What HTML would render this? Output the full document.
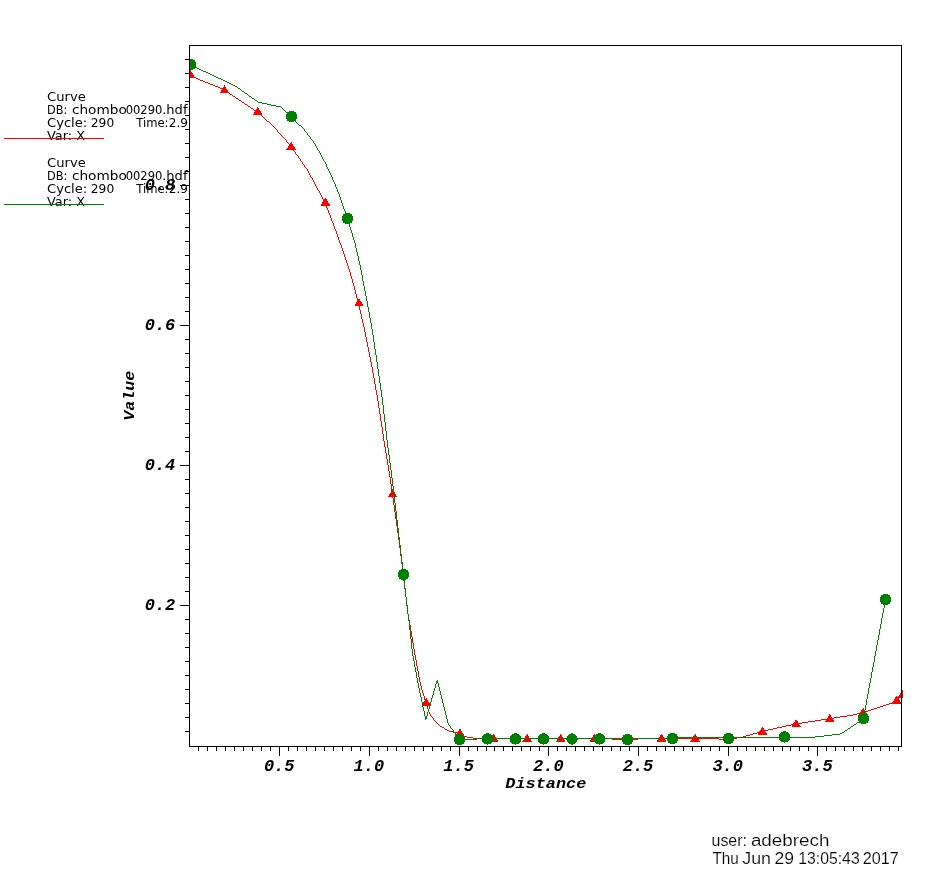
<!DOCTYPE html>
<html lang="en"><head><meta charset="utf-8"><title>Curve plot</title>
<style>html,body{margin:0;padding:0;background:#fff}body{width:950px;height:878px;overflow:hidden}svg{display:block}.leg{font-family:"DejaVu Sans","Liberation Sans",sans-serif;font-size:12px;fill:#000}.ax{font-family:"Liberation Mono","DejaVu Sans Mono",monospace;font-weight:bold;font-style:italic;font-size:17px;fill:#000}.axt{font-family:"Liberation Mono","DejaVu Sans Mono",monospace;font-weight:bold;font-style:italic;font-size:15px;fill:#000}.inf{font-family:"Liberation Sans","DejaVu Sans",sans-serif;font-size:16px;fill:#000;stroke:#fff;stroke-width:0.15px}</style></head><body>
<svg width="950" height="878" viewBox="0 0 950 878">
<rect width="950" height="878" fill="#fff"/>
<defs><clipPath id="vp"><rect x="189" y="45" width="714" height="702"/></clipPath></defs>
<text class="leg" y="100.7"><tspan x="47.0" textLength="38.8" lengthAdjust="spacingAndGlyphs">Curve</tspan></text>
<text class="leg" y="113.7"><tspan x="47.0" textLength="20.3" lengthAdjust="spacingAndGlyphs">DB:</tspan> <tspan x="71.9" textLength="54.9" lengthAdjust="spacingAndGlyphs">chombo</tspan><tspan x="125.7" textLength="36.7" lengthAdjust="spacingAndGlyphs">00290</tspan><tspan x="162.2" textLength="25.3" lengthAdjust="spacingAndGlyphs">.hdf</tspan></text>
<text class="leg" y="126.7"><tspan x="47.0" textLength="40.2" lengthAdjust="spacingAndGlyphs">Cycle:</tspan> <tspan x="90.8" textLength="23.4" lengthAdjust="spacingAndGlyphs">290</tspan> <tspan x="136.2" textLength="32.3" lengthAdjust="spacingAndGlyphs">Time:</tspan><tspan x="168.8" textLength="19.2" lengthAdjust="spacingAndGlyphs">2.9</tspan></text>
<text class="leg" y="139.7"><tspan x="47.0" textLength="25.1" lengthAdjust="spacingAndGlyphs">Var:</tspan> <tspan x="76.3" textLength="8.8" lengthAdjust="spacingAndGlyphs">X</tspan></text>
<rect x="4" y="138" width="100" height="1" fill="#ff0000" shape-rendering="crispEdges"/>
<text class="leg" y="166.7"><tspan x="47.0" textLength="38.8" lengthAdjust="spacingAndGlyphs">Curve</tspan></text>
<text class="leg" y="179.7"><tspan x="47.0" textLength="20.3" lengthAdjust="spacingAndGlyphs">DB:</tspan> <tspan x="71.9" textLength="54.9" lengthAdjust="spacingAndGlyphs">chombo</tspan><tspan x="125.7" textLength="36.7" lengthAdjust="spacingAndGlyphs">00290</tspan><tspan x="162.2" textLength="25.3" lengthAdjust="spacingAndGlyphs">.hdf</tspan></text>
<text class="leg" y="192.7"><tspan x="47.0" textLength="40.2" lengthAdjust="spacingAndGlyphs">Cycle:</tspan> <tspan x="90.8" textLength="23.4" lengthAdjust="spacingAndGlyphs">290</tspan> <tspan x="136.2" textLength="32.3" lengthAdjust="spacingAndGlyphs">Time:</tspan><tspan x="168.8" textLength="19.2" lengthAdjust="spacingAndGlyphs">2.9</tspan></text>
<text class="leg" y="205.7"><tspan x="47.0" textLength="25.1" lengthAdjust="spacingAndGlyphs">Var:</tspan> <tspan x="76.3" textLength="8.8" lengthAdjust="spacingAndGlyphs">X</tspan></text>
<rect x="4" y="204" width="100" height="1" fill="#008000" shape-rendering="crispEdges"/>
<g clip-path="url(#vp)">
<path d="M189 75h2v1h-2zM191 76h2v1h-2zM193 77h3v1h-3zM196 78h2v1h-2zM198 79h2v1h-2zM200 80h3v1h-3zM203 81h2v1h-2zM205 82h3v1h-3zM208 83h2v1h-2zM210 84h3v1h-3zM213 85h2v1h-2zM215 86h3v1h-3zM218 87h2v1h-2zM220 88h2v1h-2zM222 89h3v1h-3zM225 90h1v1h-1zM226 91h2v1h-2zM228 92h1v1h-1zM229 93h1v1h-1zM230 94h2v1h-2zM232 95h1v1h-1zM233 96h2v1h-2zM235 97h1v1h-1zM236 98h2v1h-2zM238 99h1v1h-1zM239 100h2v1h-2zM241 101h1v1h-1zM242 102h2v1h-2zM244 103h1v1h-1zM245 104h2v1h-2zM247 105h1v1h-1zM248 106h2v1h-2zM250 107h1v1h-1zM251 108h2v1h-2zM253 109h1v1h-1zM254 110h2v1h-2zM256 111h1v1h-1zM257 112h2v1h-2zM259 113h1v1h-1zM260 114h1v1h-1zM261 115h1v1h-1zM262 116h1v1h-1zM263 117h1v1h-1zM264 118h1v1h-1zM265 119h1v1h-1zM266 120h1v1h-1zM267 121h2v1h-2zM269 122h1v1h-1zM270 123h1v1h-1zM271 124h1v1h-1zM272 125h1v1h-1zM273 126h1v1h-1zM274 127h1v1h-1zM275 128h1v1h-1zM276 129h1v1h-1zM277 130h1v2h-1zM278 132h1v1h-1zM279 133h1v1h-1zM280 134h1v1h-1zM281 135h1v1h-1zM282 136h1v1h-1zM283 137h1v1h-1zM284 138h1v1h-1zM285 139h1v1h-1zM286 140h1v2h-1zM287 142h1v1h-1zM288 143h1v1h-1zM289 144h1v1h-1zM290 145h1v1h-1zM291 146h1v2h-1zM292 148h1v1h-1zM293 149h1v2h-1zM294 151h1v1h-1zM295 152h1v2h-1zM296 154h1v1h-1zM297 155h1v1h-1zM298 156h1v2h-1zM299 158h1v1h-1zM300 159h1v2h-1zM301 161h1v1h-1zM302 162h1v2h-1zM303 164h1v1h-1zM304 165h1v2h-1zM305 167h1v1h-1zM306 168h1v1h-1zM307 169h1v2h-1zM308 171h1v2h-1zM309 173h1v2h-1zM310 175h1v2h-1zM311 177h1v1h-1zM312 178h1v2h-1zM313 180h1v2h-1zM314 182h1v2h-1zM315 184h1v2h-1zM316 186h1v2h-1zM317 188h1v2h-1zM318 190h1v1h-1zM319 191h1v2h-1zM320 193h1v2h-1zM321 195h1v2h-1zM322 197h1v2h-1zM323 199h1v2h-1zM324 201h1v1h-1zM325 202h1v3h-1zM326 205h1v3h-1zM327 208h1v2h-1zM328 210h1v3h-1zM329 213h1v2h-1zM330 215h1v3h-1zM331 218h1v3h-1zM332 221h1v2h-1zM333 223h1v3h-1zM334 226h1v3h-1zM335 229h1v2h-1zM336 231h1v3h-1zM337 234h1v3h-1zM338 237h1v3h-1zM339 240h1v3h-1zM340 243h1v2h-1zM341 245h1v3h-1zM342 248h1v3h-1zM343 251h1v3h-1zM344 254h1v3h-1zM345 257h1v3h-1zM346 260h1v3h-1zM347 263h1v3h-1zM348 266h1v3h-1zM349 269h1v3h-1zM350 272h1v4h-1zM351 276h1v3h-1zM352 279h1v4h-1zM353 283h1v3h-1zM354 286h1v4h-1zM355 290h1v4h-1zM356 294h1v4h-1zM357 298h1v3h-1zM358 301h1v5h-1zM359 306h1v4h-1zM360 310h1v4h-1zM361 314h1v5h-1zM362 319h1v4h-1zM363 323h1v4h-1zM364 327h1v5h-1zM365 332h1v5h-1zM366 337h1v5h-1zM367 342h1v5h-1zM368 347h1v5h-1zM369 352h1v5h-1zM370 357h1v5h-1zM371 362h1v5h-1zM372 367h1v6h-1zM373 373h1v5h-1zM374 378h1v6h-1zM375 384h1v6h-1zM376 390h1v5h-1zM377 395h1v6h-1zM378 401h1v7h-1zM379 408h1v6h-1zM380 414h1v7h-1zM381 421h1v6h-1zM382 427h1v7h-1zM383 434h1v7h-1zM384 441h1v6h-1zM385 447h1v6h-1zM386 453h1v6h-1zM387 459h1v6h-1zM388 465h1v6h-1zM389 471h1v6h-1zM390 477h1v7h-1zM391 484h1v7h-1zM392 491h1v7h-1zM393 498h1v7h-1zM394 505h1v7h-1zM395 512h1v7h-1zM396 519h1v7h-1zM397 526h1v7h-1zM398 533h1v7h-1zM399 540h1v8h-1zM400 548h1v8h-1zM401 556h1v8h-1zM402 564h1v8h-1zM403 572h1v9h-1zM404 581h1v8h-1zM405 589h1v8h-1zM406 597h1v9h-1zM407 606h1v8h-1zM408 614h1v6h-1zM409 620h1v5h-1zM410 625h1v6h-1zM411 631h1v6h-1zM412 637h1v6h-1zM413 643h1v6h-1zM414 649h1v6h-1zM415 655h1v5h-1zM416 660h1v6h-1zM417 666h1v5h-1zM418 671h1v6h-1zM419 677h1v5h-1zM420 682h1v4h-1zM421 686h1v4h-1zM422 690h1v3h-1zM423 693h1v3h-1zM424 696h1v4h-1zM425 700h1v3h-1zM426 703h1v3h-1zM427 706h1v3h-1zM428 709h1v3h-1zM429 712h1v2h-1zM430 714h1v2h-1zM431 716h1v1h-1zM432 717h1v1h-1zM433 718h1v2h-1zM434 720h1v1h-1zM435 721h1v1h-1zM436 722h1v1h-1zM437 723h1v1h-1zM438 724h1v1h-1zM439 725h1v1h-1zM440 726h2v1h-2zM442 727h2v1h-2zM444 728h1v1h-1zM445 729h2v1h-2zM447 730h2v1h-2zM449 731h4v1h-4zM453 732h4v1h-4zM457 733h3v1h-3zM460 734h2v1h-2zM462 735h2v1h-2zM464 736h3v1h-3zM467 737h6v1h-6zM473 738h139v1h-139zM612 739h26v1h-26zM638 738h81v1h-81zM719 739h11v1h-11zM730 738h7v1h-7zM737 737h6v1h-6zM743 736h3v1h-3zM746 735h4v1h-4zM750 734h3v1h-3zM753 733h4v1h-4zM757 732h3v1h-3zM760 731h4v1h-4zM764 730h4v1h-4zM768 729h5v1h-5zM773 728h4v1h-4zM777 727h5v1h-5zM782 726h4v1h-4zM786 725h5v1h-5zM791 724h4v1h-4zM795 723h7v1h-7zM802 722h6v1h-6zM808 721h7v1h-7zM815 720h6v1h-6zM821 719h7v1h-7zM828 718h6v1h-6zM834 717h6v1h-6zM840 716h7v1h-7zM847 715h6v1h-6zM853 714h4v1h-4zM857 713h4v1h-4zM861 712h4v1h-4zM865 711h3v1h-3zM868 710h3v1h-3zM871 709h3v1h-3zM874 708h3v1h-3zM877 707h3v1h-3zM880 706h3v1h-3zM883 705h3v1h-3zM886 704h3v1h-3zM889 703h3v1h-3zM892 702h2v1h-2zM894 701h2v1h-2zM896 700h1v1h-1zM897 699h1v1h-1zM898 698h1v1h-1zM899 697h1v1h-1zM900 696h1v1h-1zM901 695h1v1h-1zM902 694h1v1h-1z" fill="#ff0000" shape-rendering="crispEdges"/>
<g fill="#ff0000" shape-rendering="crispEdges">
<path d="M190.4 69.8L195.3 77.9L185.5 77.9Z"/>
<path d="M224.5 85.2L229.4 93.3L219.6 93.3Z"/>
<path d="M257.7 106.7L262.6 114.8L252.8 114.8Z"/>
<path d="M291.2 141.7L296.1 149.8L286.3 149.8Z"/>
<path d="M325.4 197.5L330.3 205.6L320.5 205.6Z"/>
<path d="M359.0 298.2L363.9 306.3L354.1 306.3Z"/>
<path d="M392.6 489.1L397.5 497.2L387.7 497.2Z"/>
<path d="M426.2 697.9L431.1 706.0L421.3 706.0Z"/>
<path d="M459.9 728.3L464.8 736.4L455.0 736.4Z"/>
<path d="M493.5 733.7L498.4 741.8L488.6 741.8Z"/>
<path d="M527.1 733.7L532.0 741.8L522.2 741.8Z"/>
<path d="M560.7 733.7L565.6 741.8L555.8 741.8Z"/>
<path d="M594.3 733.7L599.2 741.8L589.4 741.8Z"/>
<path d="M627.4 733.9L632.3 742.0L622.5 742.0Z"/>
<path d="M661.6 733.7L666.5 741.8L656.7 741.8Z"/>
<path d="M695.2 733.7L700.1 741.8L690.3 741.8Z"/>
<path d="M728.8 734.3L733.7 742.4L723.9 742.4Z"/>
<path d="M762.4 726.5L767.3 734.6L757.5 734.6Z"/>
<path d="M796.1 719.1L801.0 727.2L791.2 727.2Z"/>
<path d="M829.7 713.9L834.6 722.0L824.8 722.0Z"/>
<path d="M863.3 707.5L868.2 715.6L858.4 715.6Z"/>
<path d="M896.6 695.6L901.5 703.7L891.7 703.7Z"/>
<path d="M902.5 689.7L907.4 697.8L897.6 697.8Z"/>
</g>
<path d="M189 64h2v1h-2zM191 65h2v1h-2zM193 66h2v1h-2zM195 67h2v1h-2zM197 68h2v1h-2zM199 69h2v1h-2zM201 70h2v1h-2zM203 71h3v1h-3zM206 72h2v1h-2zM208 73h2v1h-2zM210 74h2v1h-2zM212 75h2v1h-2zM214 76h2v1h-2zM216 77h2v1h-2zM218 78h3v1h-3zM221 79h2v1h-2zM223 80h2v1h-2zM225 81h2v1h-2zM227 82h2v1h-2zM229 83h2v1h-2zM231 84h2v1h-2zM233 85h2v1h-2zM235 86h2v1h-2zM237 87h1v1h-1zM238 88h2v1h-2zM240 89h1v1h-1zM241 90h1v1h-1zM242 91h2v1h-2zM244 92h1v1h-1zM245 93h2v1h-2zM247 94h1v1h-1zM248 95h1v1h-1zM249 96h2v1h-2zM251 97h1v1h-1zM252 98h2v1h-2zM254 99h1v1h-1zM255 100h2v1h-2zM257 101h1v1h-1zM258 102h4v1h-4zM262 103h5v1h-5zM267 104h4v1h-4zM271 105h5v1h-5zM276 106h5v1h-5zM281 107h1v1h-1zM282 108h1v1h-1zM283 109h1v1h-1zM284 110h1v1h-1zM285 111h1v1h-1zM286 112h1v1h-1zM287 113h1v1h-1zM288 114h1v1h-1zM289 115h1v1h-1zM290 116h1v1h-1zM291 117h1v1h-1zM292 118h1v1h-1zM293 119h1v1h-1zM294 120h1v1h-1zM295 121h1v1h-1zM296 122h1v1h-1zM297 123h1v1h-1zM298 124h1v1h-1zM299 125h2v1h-2zM301 126h1v1h-1zM302 127h1v1h-1zM303 128h1v1h-1zM304 129h1v2h-1zM305 131h1v1h-1zM306 132h1v1h-1zM307 133h1v2h-1zM308 135h1v1h-1zM309 136h1v1h-1zM310 137h1v2h-1zM311 139h1v1h-1zM312 140h1v1h-1zM313 141h1v2h-1zM314 143h1v1h-1zM315 144h1v2h-1zM316 146h1v2h-1zM317 148h1v2h-1zM318 150h1v1h-1zM319 151h1v2h-1zM320 153h1v2h-1zM321 155h1v2h-1zM322 157h1v2h-1zM323 159h1v2h-1zM324 161h1v1h-1zM325 162h1v2h-1zM326 164h1v3h-1zM327 167h1v2h-1zM328 169h1v2h-1zM329 171h1v2h-1zM330 173h1v2h-1zM331 175h1v2h-1zM332 177h1v3h-1zM333 180h1v2h-1zM334 182h1v2h-1zM335 184h1v3h-1zM336 187h1v2h-1zM337 189h1v3h-1zM338 192h1v2h-1zM339 194h1v3h-1zM340 197h1v3h-1zM341 200h1v3h-1zM342 203h1v3h-1zM343 206h1v3h-1zM344 209h1v2h-1zM345 211h1v3h-1zM346 214h1v3h-1zM347 217h1v4h-1zM348 221h1v3h-1zM349 224h1v3h-1zM350 227h1v3h-1zM351 230h1v3h-1zM352 233h1v4h-1zM353 237h1v3h-1zM354 240h1v3h-1zM355 243h1v5h-1zM356 248h1v4h-1zM357 252h1v4h-1zM358 256h1v5h-1zM359 261h1v4h-1zM360 265h1v5h-1zM361 270h1v5h-1zM362 275h1v6h-1zM363 281h1v5h-1zM364 286h1v5h-1zM365 291h1v5h-1zM366 296h1v5h-1zM367 301h1v6h-1zM368 307h1v5h-1zM369 312h1v6h-1zM370 318h1v5h-1zM371 323h1v6h-1zM372 329h1v6h-1zM373 335h1v7h-1zM374 342h1v7h-1zM375 349h1v6h-1zM376 355h1v7h-1zM377 362h1v7h-1zM378 369h1v7h-1zM379 376h1v7h-1zM380 383h1v7h-1zM381 390h1v7h-1zM382 397h1v8h-1zM383 405h1v9h-1zM384 414h1v8h-1zM385 422h1v9h-1zM386 431h1v9h-1zM387 440h1v8h-1zM388 448h1v7h-1zM389 455h1v8h-1zM390 463h1v7h-1zM391 470h1v8h-1zM392 478h1v8h-1zM393 486h1v8h-1zM394 494h1v9h-1zM395 503h1v8h-1zM396 511h1v9h-1zM397 520h1v8h-1zM398 528h1v9h-1zM399 537h1v8h-1zM400 545h1v9h-1zM401 554h1v8h-1zM402 562h1v9h-1zM403 571h1v8h-1zM404 579h1v9h-1zM405 588h1v9h-1zM406 597h1v8h-1zM407 605h1v9h-1zM408 614h1v7h-1zM409 621h1v9h-1zM410 630h1v9h-1zM411 639h1v10h-1zM412 649h1v7h-1zM413 656h1v5h-1zM414 661h1v6h-1zM415 667h1v5h-1zM416 672h1v6h-1zM417 678h1v5h-1zM418 683h1v5h-1zM419 688h1v5h-1zM420 693h1v4h-1zM421 697h1v5h-1zM422 702h1v5h-1zM423 707h1v4h-1zM424 711h1v5h-1zM425 716h1v4h-1zM426 716h1v3h-1zM427 712h1v4h-1zM428 709h1v3h-1zM429 705h1v4h-1zM430 702h1v3h-1zM431 698h1v4h-1zM432 695h1v3h-1zM433 691h1v4h-1zM434 688h1v3h-1zM435 684h1v4h-1zM436 681h1v3h-1zM437 680h1v3h-1zM438 683h1v4h-1zM439 687h1v4h-1zM440 691h1v4h-1zM441 695h1v4h-1zM442 699h1v4h-1zM443 703h1v4h-1zM444 707h1v4h-1zM445 711h1v4h-1zM446 715h1v4h-1zM447 719h1v4h-1zM448 723h1v2h-1zM449 725h1v1h-1zM450 726h1v2h-1zM451 728h1v1h-1zM452 729h1v1h-1zM453 730h1v2h-1zM454 732h1v1h-1zM455 733h1v2h-1zM456 735h1v1h-1zM457 736h1v1h-1zM458 737h1v2h-1zM459 739h18v1h-18zM477 738h199v1h-199zM676 737h139v1h-139zM815 736h9v1h-9zM824 735h8v1h-8zM832 734h8v1h-8zM840 733h2v1h-2zM842 732h2v1h-2zM844 731h1v1h-1zM845 730h2v1h-2zM847 729h1v1h-1zM848 728h2v1h-2zM850 727h1v1h-1zM851 726h2v1h-2zM853 725h1v1h-1zM854 724h2v1h-2zM856 723h1v1h-1zM857 722h2v1h-2zM859 721h1v1h-1zM860 720h1v1h-1zM861 719h2v1h-2zM863 715h1v4h-1zM864 710h1v5h-1zM865 705h1v5h-1zM866 699h1v6h-1zM867 694h1v5h-1zM868 688h1v6h-1zM869 683h1v5h-1zM870 678h1v5h-1zM871 672h1v6h-1zM872 667h1v5h-1zM873 662h1v5h-1zM874 656h1v6h-1zM875 651h1v5h-1zM876 645h1v6h-1zM877 640h1v5h-1zM878 635h1v5h-1zM879 629h1v6h-1zM880 624h1v5h-1zM881 618h1v6h-1zM882 613h1v5h-1zM883 608h1v5h-1zM884 602h1v6h-1zM885 599h1v3h-1z" fill="#008000" shape-rendering="crispEdges"/>
<g fill="#008000" shape-rendering="crispEdges">
<circle cx="190.5" cy="64.5" r="5.7"/>
<circle cx="291.5" cy="116.5" r="5.7"/>
<circle cx="347.5" cy="218.5" r="5.7"/>
<circle cx="403.5" cy="574.5" r="5.7"/>
<circle cx="459.5" cy="739.5" r="5.7"/>
<circle cx="487.5" cy="739.0" r="5.7"/>
<circle cx="515.5" cy="739.0" r="5.7"/>
<circle cx="543.5" cy="739.0" r="5.7"/>
<circle cx="572.0" cy="739.0" r="5.7"/>
<circle cx="599.5" cy="739.0" r="5.7"/>
<circle cx="627.5" cy="739.5" r="5.7"/>
<circle cx="672.5" cy="738.5" r="5.7"/>
<circle cx="728.5" cy="738.5" r="5.7"/>
<circle cx="784.5" cy="737.0" r="5.7"/>
<circle cx="863.5" cy="718.5" r="5.7"/>
<circle cx="885.5" cy="599.5" r="5.7"/>
</g>
</g>
<g fill="#000" shape-rendering="crispEdges">
<rect x="189" y="45" width="713" height="1"/>
<rect x="189" y="746" width="713" height="1"/>
<rect x="189" y="45" width="1" height="702"/>
<rect x="901" y="45" width="1" height="702"/>
<rect x="198" y="747" width="1" height="4"/>
<rect x="207" y="747" width="1" height="4"/>
<rect x="216" y="747" width="1" height="4"/>
<rect x="225" y="747" width="1" height="4"/>
<rect x="234" y="747" width="1" height="4"/>
<rect x="243" y="747" width="1" height="4"/>
<rect x="252" y="747" width="1" height="4"/>
<rect x="261" y="747" width="1" height="4"/>
<rect x="270" y="747" width="1" height="4"/>
<rect x="279" y="747" width="1" height="9"/>
<rect x="288" y="747" width="1" height="4"/>
<rect x="297" y="747" width="1" height="4"/>
<rect x="306" y="747" width="1" height="4"/>
<rect x="315" y="747" width="1" height="4"/>
<rect x="324" y="747" width="1" height="4"/>
<rect x="333" y="747" width="1" height="4"/>
<rect x="342" y="747" width="1" height="4"/>
<rect x="351" y="747" width="1" height="4"/>
<rect x="360" y="747" width="1" height="4"/>
<rect x="369" y="747" width="1" height="9"/>
<rect x="378" y="747" width="1" height="4"/>
<rect x="387" y="747" width="1" height="4"/>
<rect x="396" y="747" width="1" height="4"/>
<rect x="405" y="747" width="1" height="4"/>
<rect x="414" y="747" width="1" height="4"/>
<rect x="423" y="747" width="1" height="4"/>
<rect x="432" y="747" width="1" height="4"/>
<rect x="441" y="747" width="1" height="4"/>
<rect x="450" y="747" width="1" height="4"/>
<rect x="459" y="747" width="1" height="9"/>
<rect x="468" y="747" width="1" height="4"/>
<rect x="477" y="747" width="1" height="4"/>
<rect x="486" y="747" width="1" height="4"/>
<rect x="494" y="747" width="1" height="4"/>
<rect x="503" y="747" width="1" height="4"/>
<rect x="512" y="747" width="1" height="4"/>
<rect x="521" y="747" width="1" height="4"/>
<rect x="530" y="747" width="1" height="4"/>
<rect x="539" y="747" width="1" height="4"/>
<rect x="548" y="747" width="1" height="9"/>
<rect x="557" y="747" width="1" height="4"/>
<rect x="566" y="747" width="1" height="4"/>
<rect x="575" y="747" width="1" height="4"/>
<rect x="584" y="747" width="1" height="4"/>
<rect x="593" y="747" width="1" height="4"/>
<rect x="602" y="747" width="1" height="4"/>
<rect x="611" y="747" width="1" height="4"/>
<rect x="620" y="747" width="1" height="4"/>
<rect x="629" y="747" width="1" height="4"/>
<rect x="638" y="747" width="1" height="9"/>
<rect x="647" y="747" width="1" height="4"/>
<rect x="656" y="747" width="1" height="4"/>
<rect x="665" y="747" width="1" height="4"/>
<rect x="674" y="747" width="1" height="4"/>
<rect x="683" y="747" width="1" height="4"/>
<rect x="692" y="747" width="1" height="4"/>
<rect x="701" y="747" width="1" height="4"/>
<rect x="710" y="747" width="1" height="4"/>
<rect x="719" y="747" width="1" height="4"/>
<rect x="728" y="747" width="1" height="9"/>
<rect x="737" y="747" width="1" height="4"/>
<rect x="746" y="747" width="1" height="4"/>
<rect x="755" y="747" width="1" height="4"/>
<rect x="764" y="747" width="1" height="4"/>
<rect x="773" y="747" width="1" height="4"/>
<rect x="782" y="747" width="1" height="4"/>
<rect x="790" y="747" width="1" height="4"/>
<rect x="799" y="747" width="1" height="4"/>
<rect x="808" y="747" width="1" height="4"/>
<rect x="817" y="747" width="1" height="9"/>
<rect x="826" y="747" width="1" height="4"/>
<rect x="835" y="747" width="1" height="4"/>
<rect x="844" y="747" width="1" height="4"/>
<rect x="853" y="747" width="1" height="4"/>
<rect x="862" y="747" width="1" height="4"/>
<rect x="871" y="747" width="1" height="4"/>
<rect x="880" y="747" width="1" height="4"/>
<rect x="889" y="747" width="1" height="4"/>
<rect x="898" y="747" width="1" height="4"/>
<rect x="185" y="731" width="4" height="1"/>
<rect x="185" y="717" width="4" height="1"/>
<rect x="185" y="703" width="4" height="1"/>
<rect x="185" y="689" width="4" height="1"/>
<rect x="185" y="675" width="4" height="1"/>
<rect x="185" y="661" width="4" height="1"/>
<rect x="185" y="647" width="4" height="1"/>
<rect x="185" y="633" width="4" height="1"/>
<rect x="185" y="619" width="4" height="1"/>
<rect x="180" y="605" width="9" height="1"/>
<rect x="185" y="591" width="4" height="1"/>
<rect x="185" y="577" width="4" height="1"/>
<rect x="185" y="563" width="4" height="1"/>
<rect x="185" y="549" width="4" height="1"/>
<rect x="185" y="535" width="4" height="1"/>
<rect x="185" y="521" width="4" height="1"/>
<rect x="185" y="507" width="4" height="1"/>
<rect x="185" y="493" width="4" height="1"/>
<rect x="185" y="479" width="4" height="1"/>
<rect x="180" y="465" width="9" height="1"/>
<rect x="185" y="451" width="4" height="1"/>
<rect x="185" y="437" width="4" height="1"/>
<rect x="185" y="423" width="4" height="1"/>
<rect x="185" y="409" width="4" height="1"/>
<rect x="185" y="395" width="4" height="1"/>
<rect x="185" y="381" width="4" height="1"/>
<rect x="185" y="367" width="4" height="1"/>
<rect x="185" y="353" width="4" height="1"/>
<rect x="185" y="339" width="4" height="1"/>
<rect x="180" y="325" width="9" height="1"/>
<rect x="185" y="311" width="4" height="1"/>
<rect x="185" y="297" width="4" height="1"/>
<rect x="185" y="283" width="4" height="1"/>
<rect x="185" y="269" width="4" height="1"/>
<rect x="185" y="255" width="4" height="1"/>
<rect x="185" y="241" width="4" height="1"/>
<rect x="185" y="227" width="4" height="1"/>
<rect x="185" y="213" width="4" height="1"/>
<rect x="185" y="199" width="4" height="1"/>
<rect x="180" y="185" width="9" height="1"/>
<rect x="185" y="171" width="4" height="1"/>
<rect x="185" y="157" width="4" height="1"/>
<rect x="185" y="143" width="4" height="1"/>
<rect x="185" y="129" width="4" height="1"/>
<rect x="185" y="115" width="4" height="1"/>
<rect x="185" y="101" width="4" height="1"/>
<rect x="185" y="87" width="4" height="1"/>
<rect x="185" y="73" width="4" height="1"/>
<rect x="185" y="59" width="4" height="1"/>
</g>
<text class="ax" x="279.2" y="771" text-anchor="middle">0.5</text>
<text class="ax" x="368.9" y="771" text-anchor="middle">1.0</text>
<text class="ax" x="458.6" y="771" text-anchor="middle">1.5</text>
<text class="ax" x="548.3" y="771" text-anchor="middle">2.0</text>
<text class="ax" x="638.0" y="771" text-anchor="middle">2.5</text>
<text class="ax" x="727.7" y="771" text-anchor="middle">3.0</text>
<text class="ax" x="817.4" y="771" text-anchor="middle">3.5</text>
<text class="ax" x="175.3" y="610.3" text-anchor="end">0.2</text>
<text class="ax" x="175.3" y="470.3" text-anchor="end">0.4</text>
<text class="ax" x="175.3" y="329.7" text-anchor="end">0.6</text>
<text class="ax" x="175.3" y="190.3" text-anchor="end">0.8</text>
<text class="axt" x="505.3" y="788.3" textLength="81" lengthAdjust="spacingAndGlyphs">Distance</text>
<text class="axt" transform="translate(133.7 420.8) rotate(-90)" textLength="50" lengthAdjust="spacingAndGlyphs">Value</text>
<text class="inf" y="845.7"><tspan x="711.5" textLength="35.5" lengthAdjust="spacingAndGlyphs">user:</tspan> <tspan x="750.9" textLength="78.5" lengthAdjust="spacingAndGlyphs">adebrech</tspan></text>
<text class="inf" y="863.6"><tspan x="712.5" textLength="26.3" lengthAdjust="spacingAndGlyphs">Thu</tspan> <tspan x="742.3" textLength="28.7" lengthAdjust="spacingAndGlyphs">Jun</tspan> <tspan x="774.5" textLength="19.5" lengthAdjust="spacingAndGlyphs">29</tspan> <tspan x="798.2" textLength="61.5" lengthAdjust="spacingAndGlyphs">13:05:43</tspan> <tspan x="862.7" textLength="36.0" lengthAdjust="spacingAndGlyphs">2017</tspan></text>
</svg></body></html>
